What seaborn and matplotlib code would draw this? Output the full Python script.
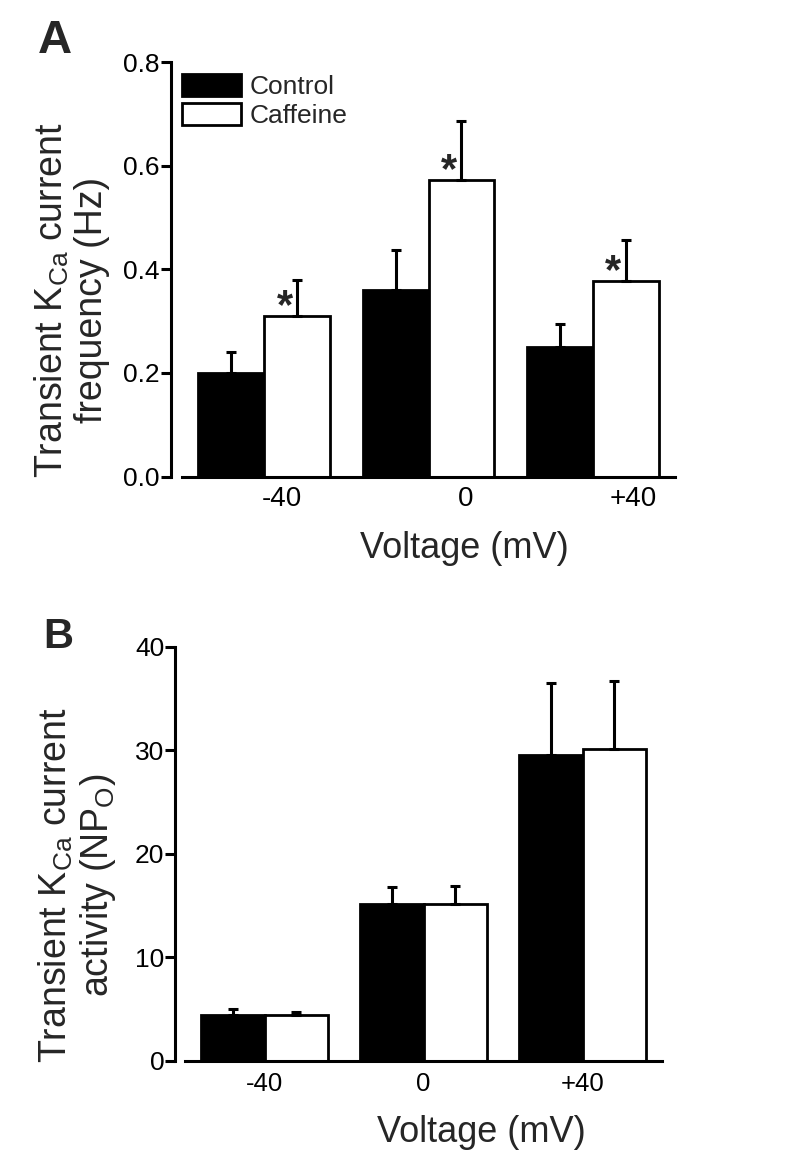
import numpy as np
import pandas as pd
import matplotlib
matplotlib.use("Agg")
import matplotlib.pyplot as plt
from matplotlib.transforms import ScaledTranslation
import seaborn as sns

# values (mean and SEM)
voltages = ["-40", "0", "+40"]
conditions = ["Control", "Caffeine"]

freq_control = [0.20, 0.36, 0.25]
freq_control_sem = [0.041, 0.077, 0.045]
freq_caffeine = [0.31, 0.573, 0.377]
freq_caffeine_sem = [0.069, 0.114, 0.08]
freq_signif = [True, True, True]  # caffeine vs control

npo_control = [4.4, 15.1, 29.5]
npo_control_sem = [0.55, 1.7, 7.0]
npo_caffeine = [4.4, 15.1, 30.1]
npo_caffeine_sem = [0.33, 1.8, 6.6]

sns.set_style("ticks")
plt.rcParams['font.family'] = ['Liberation Sans', 'DejaVu Sans']
plt.rcParams['mathtext.default'] = 'regular'
plt.rcParams['axes.edgecolor'] = 'black'
plt.rcParams['xtick.color'] = 'black'
plt.rcParams['ytick.color'] = 'black'

W, H = 798, 1164
fig = plt.figure(figsize=(W / 100, H / 100), dpi=100)


def to_frame(ctrl, caff):
    return pd.DataFrame({
        'Voltage': voltages * 2,
        'Condition': [conditions[0]] * 3 + [conditions[1]] * 3,
        'Value': list(ctrl) + list(caff),
    })


def bar_panel(ax, ctrl, ctrl_sem, caff, caff_sem, yticks, xpad, xsize, spine_off):
    df = to_frame(ctrl, caff)
    sns.barplot(data=df, x='Voltage', y='Value', hue='Condition', order=voltages,
                hue_order=conditions, palette=['black', 'white'], saturation=1,
                edgecolor='black', linewidth=2, errorbar=None, legend=False, ax=ax)
    # one-sided (upward) SEM bars at the bar centres
    for cont, sem in zip(ax.containers, [ctrl_sem, caff_sem]):
        xs = [p.get_x() + p.get_width() / 2 for p in cont]
        ys = [p.get_height() for p in cont]
        ax.errorbar(xs, ys, yerr=[np.zeros(len(sem)), sem], fmt='none',
                    ecolor='black', elinewidth=2.2, capsize=3.6, capthick=2.2, zorder=3)
    ax.set_xlim(-0.5, 2.5)
    ax.set_ylim(yticks[0], yticks[-1])
    ax.set_yticks(yticks)
    ax.set_xlabel('')
    ax.set_ylabel('')
    sns.despine(ax=ax)
    ax.spines['left'].set_position(('outward', spine_off))
    for s in ['left', 'bottom']:
        ax.spines[s].set_linewidth(2.2)
    ax.tick_params(axis='y', length=7, width=2.2, pad=1, labelsize=19)
    ax.tick_params(axis='x', length=0, pad=xpad, labelsize=xsize)


# ---- panel A: frequency
axA = fig.add_axes([182 / W, 1 - 476.5 / H, 493 / W, 414.5 / H])
bar_panel(axA, freq_control, freq_control_sem, freq_caffeine, freq_caffeine_sem,
          [0.0, 0.2, 0.4, 0.6, 0.8], 6.5, 20, 8)
axA.set_yticklabels([f"{t:.1f}" for t in [0.0, 0.2, 0.4, 0.6, 0.8]])
# tick labels sit right of the group centres in the original
for lab, dx in zip(axA.get_xticklabels(), [18, 37, 40]):
    lab.set_transform(lab.get_transform() + ScaledTranslation(dx / 100, 0, fig.dpi_scale_trans))

for p, sig in zip(axA.containers[1], freq_signif):
    if sig:
        axA.text(p.get_x() + p.get_width() / 2 - 0.075, p.get_height() - 0.004, '*',
                 ha='center', va='baseline', fontsize=30, fontweight='bold')

axA.legend(axA.containers, conditions, loc='upper left', bbox_to_anchor=(0.0, 0.972),
           frameon=False, fontsize=19, handlelength=2.25, handleheight=0.9,
           handletextpad=0.3, labelspacing=0.15, borderpad=0, borderaxespad=0)

# ---- panel B: NPo
axB = fig.add_axes([185 / W, 1 - 1060.7 / H, 477 / W, 414 / H])
bar_panel(axB, npo_control, npo_control_sem, npo_caffeine, npo_caffeine_sem,
          [0, 10, 20, 30, 40], 8, 18.5, 7)

# ---- labels
fig.text(71 / W, 1 - 300 / H, 'Transient K$_{Ca}$ current\nfrequency (Hz)',
         rotation=90, ha='center', va='center', multialignment='center',
         fontsize=27, linespacing=1.1)
fig.text(77 / W, 1 - 885 / H, 'Transient K$_{Ca}$ current\nactivity (NP$_{O}$)',
         rotation=90, ha='center', va='center', multialignment='center',
         fontsize=27, linespacing=1.1)
fig.text(464 / W, 1 - 548 / H, 'Voltage (mV)', ha='center', va='center', fontsize=26)
fig.text(481 / W, 1 - 1133 / H, 'Voltage (mV)', ha='center', va='center', fontsize=26)

fig.text(38 / W, 1 - 53 / H, 'A', fontsize=34, fontweight='bold', ha='left', va='baseline')
fig.text(43 / W, 1 - 648 / H, 'B', fontsize=30, fontweight='bold', ha='left', va='baseline')

fig.savefig('out.png', dpi=100)
